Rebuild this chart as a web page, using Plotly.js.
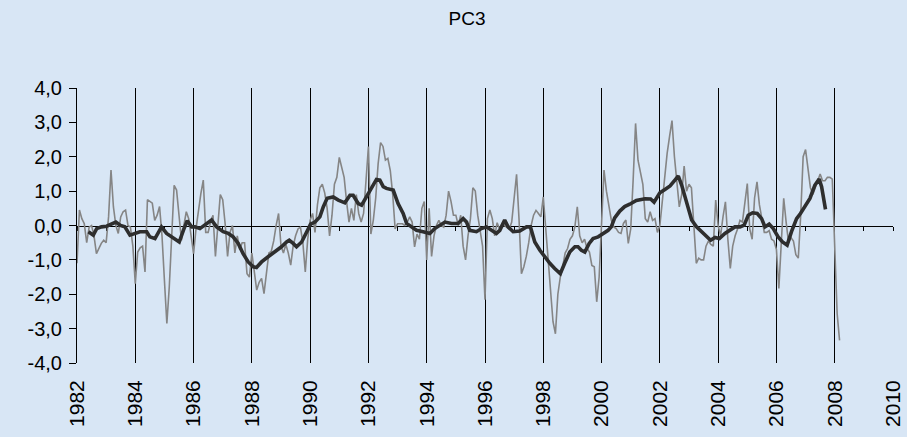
<!DOCTYPE html>
<html>
<head>
<meta charset="utf-8">
<script src="https://cdn.plot.ly/plotly-3.0.1.min.js"></script>
<style>
  html, body { margin: 0; padding: 0; background: #d8e6f5; }
  #chart { width: 907px; height: 437px; }
</style>
</head>
<body>
<div id="chart"></div>
<script>
// Monthly PC3 values, January 1982 onwards (grey line)
const startYear = 1982;
const pcMonthly = [
  -1.1, 0.45, 0.2, 0.05, -0.5, -0.05, 0.0, -0.3, -0.82, -0.65, -0.52, -0.43,
  -0.5, 0.25, 1.61, 0.54, 0.0, -0.23, 0.25, 0.4, 0.45, 0.0, -0.05, -0.6,
  -1.69, -0.77, -0.65, -0.6, -1.35, 0.75, 0.7, 0.65, 0.15, 0.3, 0.55, -0.3,
  -1.6, -2.85, -1.78, -0.4, 1.17, 1.03, 0.35, -0.43, 0.0, 0.4, 0.2, -0.4,
  -0.82, -0.1, 0.5, 0.93, 1.32, -0.2, -0.2, 0.1, 0.3, -0.9, 0.0, 0.9,
  0.75, 0.05, -0.9, -0.2, 0.0, -0.8, -0.3, -0.7, -0.5, -0.5, -1.4, -1.5,
  -0.8, -1.3, -1.88, -1.65, -1.54, -1.98, -1.3, -0.8, -0.75, -0.45, 0.0, 0.35,
  -0.6, -0.8, -0.55, -0.8, -1.15, -0.6, -0.3, -0.1, -0.05, -0.5, -1.35, -0.4,
  0.15, 0.35, -0.2, 0.6, 1.1, 1.2, 0.95, 0.5, -0.3, 0.3, 1.2, 1.4,
  1.98, 1.7, 1.4, 0.7, 0.1, 0.5, 0.15, 0.9, 0.35, 0.1, 0.35, 1.3,
  2.3, -0.25, 0.15, 0.8, 1.8, 2.41, 2.3, 1.9, 1.95, 1.6, 0.9, -0.1,
  0.05, 0.05, 0.05, 0.0, 0.1, 0.25, 0.1, -0.62, -0.25, -0.4, 0.5, 0.7,
  -1.0, 0.5, -0.9, -0.3, 0.0, 0.15, 0.0, -0.05, 0.3, 1.0, 0.7, 0.3,
  0.3, 0.0, 0.3, -0.6, -1.0, -0.3, 0.2, 1.1, 1.0, 0.3, -0.1, -0.6,
  -2.16, 0.2, 0.45, 0.2, -0.3, 0.08, -0.1, 0.05, 0.0, -0.05, -0.1, 0.1,
  0.8, 1.49, 0.2, -1.4, -1.2, -0.9, -0.5, 0.0, 0.3, 0.44, 0.35, 0.25,
  0.83, -0.1, -1.06, -2.0, -2.8, -3.15, -2.0, -1.5, -1.2, -0.8, -0.67, -0.4,
  -0.3, -0.04, 0.54, -0.3, -0.5, -0.4, -0.67, -0.77, -1.16, -1.2, -2.22, -1.5,
  0.06, 1.61, 1.0, 0.55, 0.16, -0.04, -0.09, -0.2, -0.23, 0.06, 0.16, -0.52,
  -0.1, 1.32, 2.97, 1.9, 1.5, 1.2, 0.2, 0.1, 0.4, 0.15, 0.2, -0.2,
  0.0, 0.7, 1.5, 2.1, 2.59, 3.05, 2.0, 1.2, 0.54, 0.9, 1.73, 1.0,
  1.2, 1.1, 0.0, -1.1, -0.95, -1.0, -1.0, -0.6, -0.45, -0.55, -0.6, 0.74,
  0.0, -0.3, 0.25, 0.69, -0.4, -1.25, -0.6, -0.3, -0.1, 0.15, 0.1, 0.6,
  1.22, -0.1, -0.4, 0.8, 1.27, 0.6, 0.2, -0.2, -0.2, -0.15, -0.4, -0.45,
  -0.7, -1.83, -0.5, 0.79, 0.1, -0.5, -0.35, -0.45, -0.85, -0.95, 0.3, 2.0,
  2.21, 1.7, 1.1, 0.9, 1.1, 1.3, 1.5, 1.3, 1.3, 1.4, 1.4, 1.35,
  -0.6, -2.56, -3.34
];

// Smoothed PC3 (black line): months since Jan 1982 and values
const smoothMonth = [
  4.7, 6.7, 8.1, 10.1, 12.2, 14.3, 16, 17.9, 19.7, 21.8, 23.9, 25.9, 28.7, 30, 32.1, 34.8,
  36.9, 38.9, 40.3, 42.1, 43.8, 45.4, 47.2, 48.6, 50.6, 52.7, 55.4, 57.5, 60.2, 62.3, 64.3,
  66.4, 68.4, 70.5, 72.6, 73.9, 76, 78.7, 81.5, 84.2, 86.3, 87.4, 89, 90.4, 92.5, 94.5,
  96.2, 98, 100, 101.4, 103, 105.5, 107.6, 110.3, 112.4, 113.7, 115.8, 117.2, 119.2, 121.3,
  123.3, 124.7, 126.1, 127.4, 130.2, 132.2, 134.3, 135.7, 137.7, 139.8, 142.5, 145.3, 147.3,
  149.4, 151.5, 154.2, 156.9, 159, 160.4, 161.7, 164.5, 166.5, 168.6, 170.7, 172.7, 174.1,
  176.1, 177.5, 179.6, 182.3, 185.1, 186.7, 188.5, 190.6, 192.6, 194.7, 196.7, 199, 200.8,
  202.9, 205, 206.3, 207.7, 209.1, 210.9, 212.5, 214.6, 216.6, 218.7, 220, 221.4, 223.5,
  225.5, 227.6, 230.3, 233.9, 236.2, 237.6, 240, 242.1, 244.2, 246.2, 247.6, 249, 250.3,
  251.7, 253.1, 255.1, 257.2, 259.2, 260.9, 262.7, 264.5, 266.8, 268.9, 270.9, 273, 274.7,
  276.4, 278.2, 280.1, 281.9, 283.3, 285, 286.7, 288.7, 290.5, 292.4, 294.2, 296.3, 297.9,
  299.7, 301.8, 303.8, 305.6, 306.6, 307.5, 308.2
];
const smoothValue = [
  -0.18, -0.28, -0.09, -0.04, -0.02, 0.06, 0.1, 0.0, -0.04, -0.28, -0.23, -0.18, -0.18, -0.33, -0.38, -0.04,
  -0.23, -0.33, -0.38, -0.48, -0.14, 0.14, -0.04, -0.04, -0.09, 0.01, 0.16, -0.04, -0.18, -0.23, -0.33,
  -0.52, -0.82, -1.06, -1.2, -1.22, -1.06, -0.91, -0.77, -0.62, -0.48, -0.43, -0.52, -0.62, -0.48, -0.18,
  0.04, 0.1, 0.25, 0.54, 0.79, 0.83, 0.74, 0.66, 0.88, 0.88, 0.64, 0.59, 0.83, 1.13,
  1.34, 1.32, 1.13, 1.08, 1.03, 0.64, 0.35, 0.06, -0.04, -0.14, -0.18, -0.23, -0.09,
  0.02, 0.1, 0.06, 0.06, 0.2, 0.1, -0.14, -0.18, -0.09, -0.04, -0.14, -0.23, -0.14,
  0.16, -0.04, -0.18, -0.16, -0.04, -0.04, -0.48, -0.72, -0.91, -1.1, -1.25, -1.4, -1.1,
  -0.77, -0.62, -0.62, -0.72, -0.77, -0.52, -0.38, -0.33, -0.23, -0.14, -0.04, 0.22, 0.42,
  0.55, 0.62, 0.73, 0.78, 0.77, 0.68, 0.95, 1.05, 1.15, 1.32, 1.44, 1.17, 0.83,
  0.5, 0.16, -0.04, -0.18, -0.31, -0.43, -0.35, -0.38, -0.23, -0.14, -0.04, -0.04, 0.01,
  0.3, 0.37, 0.35, 0.2, -0.04, 0.04, -0.09, -0.33, -0.48, -0.57, -0.18, 0.2, 0.35,
  0.54, 0.79, 1.17, 1.35, 1.13, 0.79, 0.47
];

const xTickYears = [1982, 1984, 1986, 1988, 1990, 1992, 1994, 1996, 1998, 2000, 2002, 2004, 2006, 2008, 2010];
const yTickVals = [4, 3, 2, 1, 0, -1, -2, -3, -4];
const yTickText = ['4,0', '3,0', '2,0', '1,0', '0,0', '-1,0', '-2,0', '-3,0', '-4,0'];

const monthlyX = pcMonthly.map((_, i) => startYear + i / 12);
const smoothX = smoothMonth.map(m => startYear + m / 12);

const FONT = 'Liberation Sans, Arial, sans-serif';

const traces = [
  {
    x: monthlyX, y: pcMonthly, type: 'scatter', mode: 'lines',
    line: { color: '#858585', width: 1.6 }, hoverinfo: 'skip', showlegend: false
  },
  {
    x: smoothX, y: smoothValue, type: 'scatter', mode: 'lines',
    line: { color: '#2e2e2e', width: 3.6 }, hoverinfo: 'skip', showlegend: false
  },
  {
    x: [startYear, 2010], y: [null, null], xaxis: 'x2', type: 'scatter', mode: 'lines',
    hoverinfo: 'skip', showlegend: false
  }
];

const layout = {
  width: 907, height: 437,
  margin: { l: 77, r: 14, t: 88, b: 74, pad: 0 },
  paper_bgcolor: '#d8e6f5',
  plot_bgcolor: 'rgba(0,0,0,0)',
  font: { family: FONT, size: 20, color: '#000' },
  title: {
    text: 'PC3', font: { family: FONT, size: 19, color: '#000' },
    x: 467 / 907, xref: 'container', xanchor: 'center',
    y: 1 - 18 / 437, yref: 'container', yanchor: 'middle'
  },
  xaxis: {
    range: [1982, 2010], tickmode: 'array', tickvals: xTickYears,
    ticktext: xTickYears.map(String), tickangle: -90,
    showgrid: true, gridcolor: '#000', gridwidth: 1,
    showline: false, zeroline: false, ticks: '',
    ticklabelstandoff: 12,
    tickfont: { family: FONT, size: 21, color: '#000' },
    fixedrange: true
  },
  xaxis2: {
    overlaying: 'x', anchor: 'free', position: 0.5,
    range: [1982, 2010], tick0: 1982, dtick: 1,
    showline: true, linecolor: '#000', linewidth: 1,
    ticks: 'outside', ticklen: 4, tickcolor: '#000', tickwidth: 1,
    showticklabels: false, showgrid: false, zeroline: false,
    layer: 'below traces', fixedrange: true
  },
  yaxis: {
    range: [-4, 4], tickmode: 'array', tickvals: yTickVals, ticktext: yTickText,
    showline: true, linecolor: '#000', linewidth: 1,
    ticks: 'outside', ticklen: 7, tickcolor: '#000', tickwidth: 1,
    showgrid: false, zeroline: false, ticklabelstandoff: 3,
    tickfont: { family: FONT, size: 20, color: '#000' },
    fixedrange: true
  }
};

Plotly.newPlot('chart', traces, layout, { displayModeBar: false, staticPlot: true });
</script>
</body>
</html>
